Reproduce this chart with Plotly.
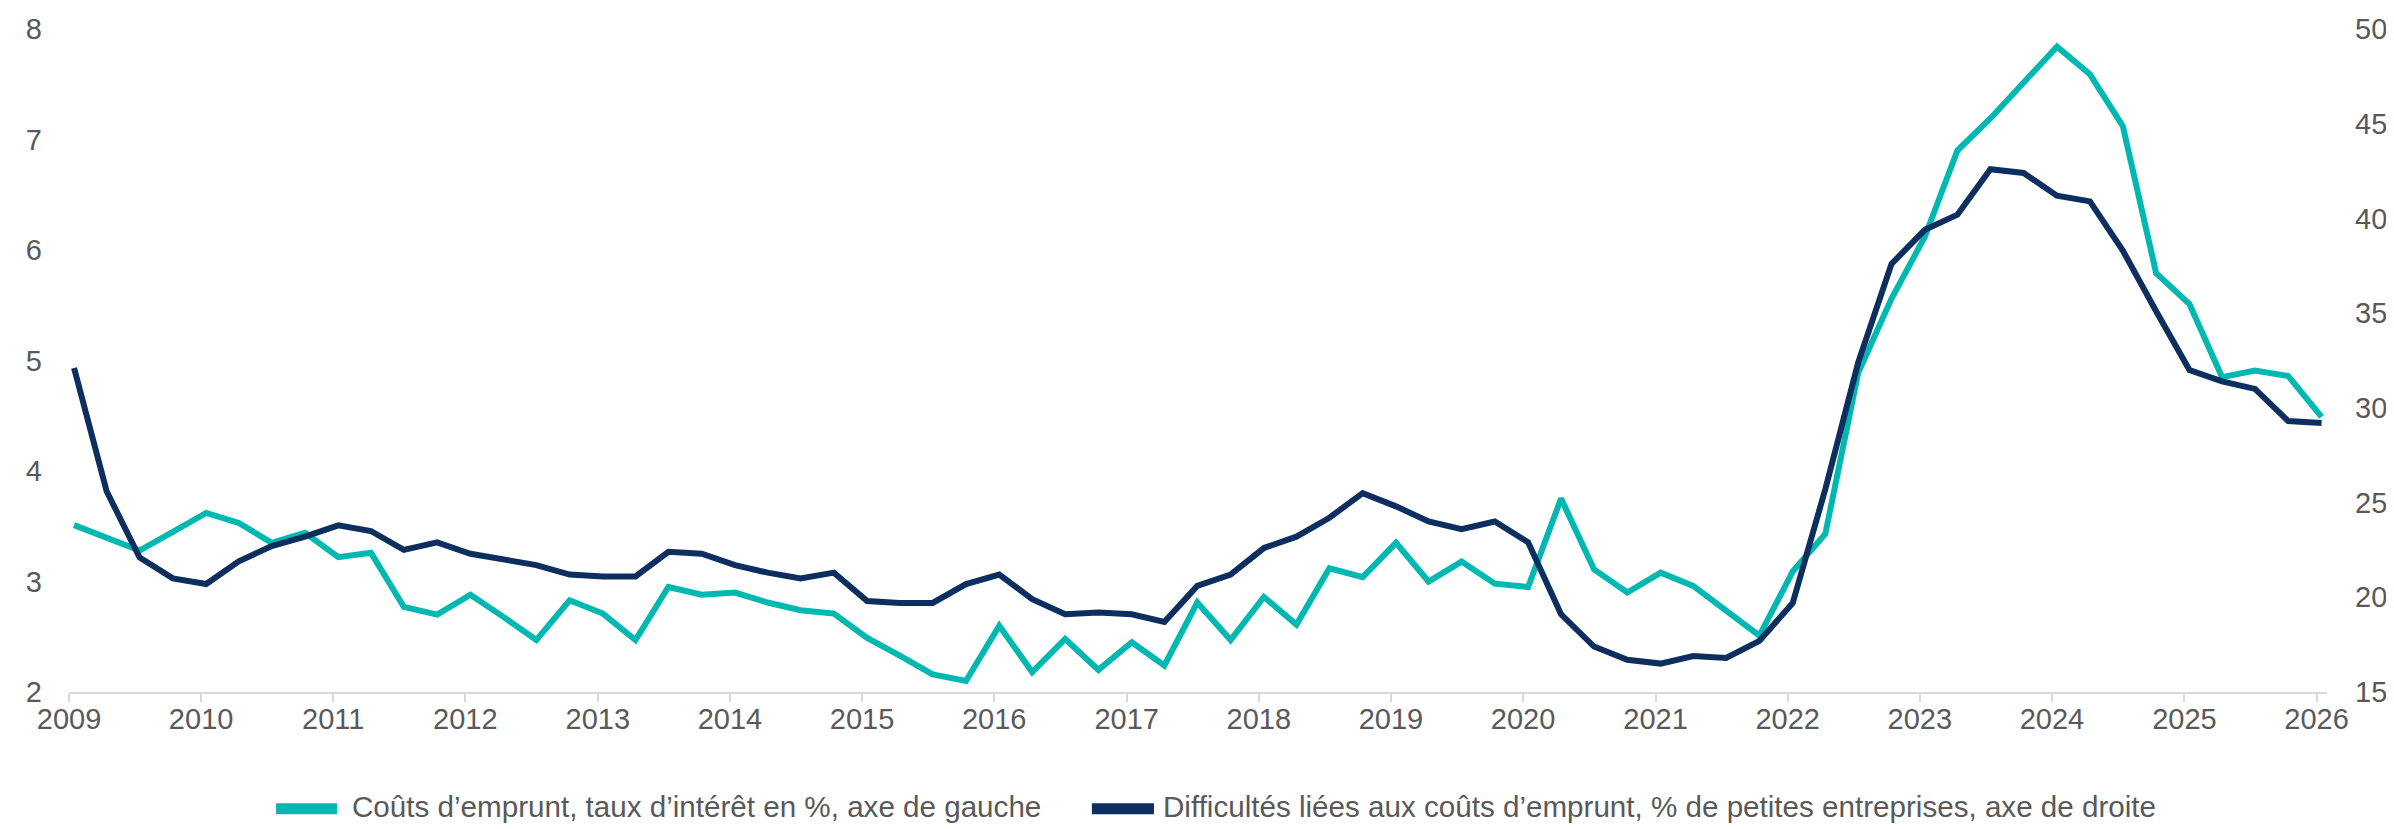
import pandas as pd
import plotly.graph_objects as go

# quarterly observations, 2009Q1 .. 2026Q1
dates = pd.date_range("2009-01-01", "2026-01-01", freq="QS") + pd.Timedelta(days=14)

# borrowing costs, interest rate in % (left axis)
taux = [3.51, 3.40, 3.28, 3.45, 3.62, 3.53, 3.35, 3.44,
        3.22, 3.26, 2.77, 2.70, 2.88, 2.68, 2.47, 2.83,
        2.71, 2.47, 2.95, 2.88, 2.90, 2.81, 2.74, 2.71,
        2.49, 2.33, 2.16, 2.10, 2.60, 2.18, 2.48, 2.20,
        2.45, 2.24, 2.81, 2.47, 2.86, 2.61, 3.12, 3.04,
        3.35, 3.00, 3.18, 2.98, 2.95, 3.75, 3.11, 2.90,
        3.08, 2.96, 2.74, 2.51, 3.09, 3.43, 4.89, 5.56,
        6.12, 6.90, 7.19, 7.52, 7.84, 7.59, 7.12, 5.79,
        5.51, 4.85, 4.91, 4.86, 4.49]

# difficulties linked to borrowing costs, % of small firms (right axis)
difficultes = [32.1, 25.6, 22.1, 21.0, 20.7, 21.9, 22.7, 23.2,
               23.8, 23.5, 22.5, 22.9, 22.3, 22.0, 21.7, 21.2,
               21.1, 21.1, 22.4, 22.3, 21.7, 21.3, 21.0, 21.3,
               19.8, 19.7, 19.7, 20.7, 21.2, 19.9, 19.1, 19.2,
               19.1, 18.7, 20.6, 21.2, 22.6, 23.2, 24.2, 25.5,
               24.8, 24.0, 23.6, 24.0, 22.9, 19.1, 17.4, 16.7,
               16.5, 16.9, 16.8, 17.7, 19.7, 25.7, 32.4, 37.6,
               39.4, 40.2, 42.6, 42.4, 41.2, 40.9, 38.3, 35.1,
               32.0, 31.4, 31.0, 29.3, 29.2]

noms = ["Coûts d’emprunt, taux d’intérêt en %, axe de gauche",
        "Difficultés liées aux coûts d’emprunt, % de petites entreprises, axe de droite"]

CYAN = "#00B8B2"
NAVY = "#0D2F5F"
GREY = "#595959"

fig = go.Figure()
fig.add_trace(go.Scatter(x=dates, y=taux, name=noms[0], mode="lines",
                         line=dict(color=CYAN, width=6)))
fig.add_trace(go.Scatter(x=dates, y=difficultes, name=noms[1], mode="lines",
                         line=dict(color=NAVY, width=6), yaxis="y2"))

# legend drawn by hand below the plot (wide, thick swatches like the original)
legend_pos = [(0.0917, 0.1187, 0.1245), (0.4530, 0.4805, 0.4838)]
for nom, col, (x0, x1, xt) in zip(noms, [CYAN, NAVY], legend_pos):
    fig.add_shape(type="line", xref="paper", yref="paper", x0=x0, x1=x1,
                  y0=-0.176, y1=-0.176, line=dict(color=col, width=11))
    fig.add_annotation(text=nom, xref="paper", yref="paper", x=xt, y=-0.173,
                       xanchor="left", yanchor="middle", showarrow=False,
                       font=dict(size=29.6, color=GREY))

fig.update_layout(
    width=2394, height=829,
    margin=dict(l=61, r=75, t=21, b=145),
    paper_bgcolor="white", plot_bgcolor="white",
    font=dict(family="Liberation Sans, Arial, sans-serif", size=29, color=GREY),
    showlegend=False,
    xaxis=dict(type="date", range=["2009-01-01", "2026-01-30"],
               dtick="M12", tick0="2009-01-01", tickformat="%Y",
               showgrid=False, zeroline=False, automargin=False,
               showline=True, linecolor="#D9D9D9", linewidth=2,
               ticks="outside", ticklen=8, tickwidth=2, tickcolor="#D9D9D9",
               ticklabelstandoff=-8),
    yaxis=dict(range=[2, 8], dtick=1, showgrid=False, zeroline=False,
               showline=False, ticks="", ticklabelstandoff=26, automargin=False),
    yaxis2=dict(range=[15, 50], dtick=5, overlaying="y", side="right",
                showgrid=False, zeroline=False, showline=False, ticks="",
                ticklabelstandoff=27, automargin=False),
)

fig.write_html("out.html")
